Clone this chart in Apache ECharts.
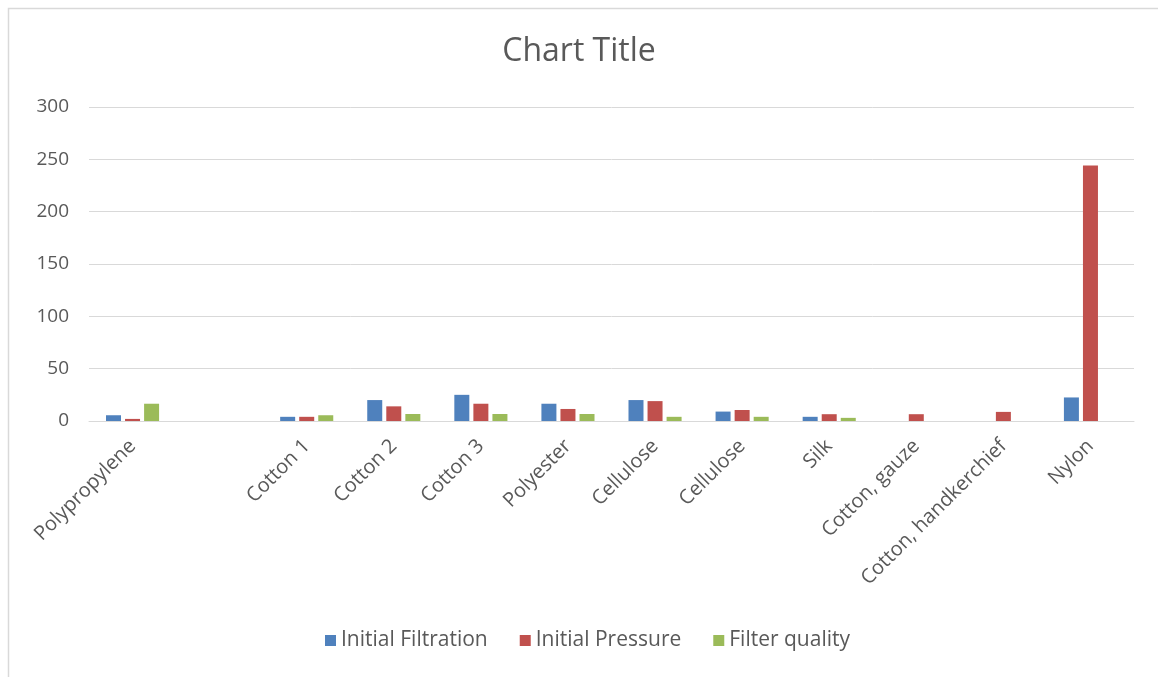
<!DOCTYPE html>
<html>
<head>
<meta charset="utf-8">
<script src="https://cdn.jsdelivr.net/npm/echarts@6/dist/echarts.min.js"></script>
<style>
html, body { margin: 0; padding: 0; background: #fff; }
#chart { width: 1158px; height: 677px; }
</style>
</head>
<body>
<div id="chart"></div>
<script>
/*数据*/
var categories = ['Polypropylene', '', 'Cotton 1', 'Cotton 2', 'Cotton 3', 'Polyester', 'Cellulose', 'Cellulose', 'Silk', 'Cotton, gauze', 'Cotton, handkerchief', 'Nylon'];
var initialFiltration = [5.5, null, 4, 20, 25, 16.5, 20, 9, 4, null, null, 22.5];
var initialPressure = [2, null, 4, 14, 16.5, 11.5, 19, 10.5, 6.5, 6.5, 8.7, 244];
var filterQuality = [16.5, null, 5.5, 6.7, 6.7, 6.7, 4, 4, 3, null, null, null];
var yTicks = [0, 50, 100, 150, 200, 250, 300];

var colors = ['#4f81bd', '#c0504d', '#9bbb59'];
var textColor = '#595959';
var font = 'Open Sans';

function makeSeries(name, data, color) {
	return {
		name: name,
		type: 'bar',
		data: data,
		barWidth: 15,
		barGap: '27%',
		itemStyle: {
			color: color
		},
		emphasis: { disabled: true }
	};
}

var chart = echarts.init(document.getElementById('chart'));
chart.setOption({
	animation: false,
	title: {
		text: 'Chart Title',
		left: 'center',
		top: 31,
		textStyle: {
			fontFamily: font,
			fontSize: 32,
			fontWeight: 'normal',
			color: textColor
		}
	},
	graphic: [{
		type: 'rect',
		shape: { x: 8.5, y: 8.5, width: 1160, height: 700 },
		style: { fill: 'none', stroke: '#d9d9d9', lineWidth: 1.5 },
		silent: true
	}],
	legend: {
		bottom: 21,
		left: 320,
		itemWidth: 11,
		itemHeight: 11,
		itemGap: 32,
		itemTextGap: 8,
		icon: 'rect',
		data: ['Initial Filtration', 'Initial Pressure', 'Filter quality'],
		textStyle: {
			fontFamily: font,
			fontSize: 21,
			color: textColor
		}
	},
	grid: {
		left: 89,
		right: 24,
		top: 107,
		bottom: 256,
		containLabel: false
	},
	xAxis: {
		type: 'category',
		data: categories,
		axisLine: { lineStyle: { color: '#d9d9d9', width: 1 } },
		axisTick: { show: false },
		axisLabel: {
			interval: 0,
			rotate: 45,
			margin: 22,
			fontFamily: font,
			fontSize: 20,
			color: textColor
		}
	},
	yAxis: {
		type: 'value',
		min: yTicks[0],
		max: yTicks[yTicks.length - 1],
		interval: 50,
		axisLine: { show: false },
		axisTick: { show: false },
		splitLine: { lineStyle: { color: '#d9d9d9', width: 1 } },
		axisLabel: {
			margin: 20,
			fontFamily: font,
			fontSize: 19,
			color: textColor
		}
	},
	series: [
		makeSeries('Initial Filtration', initialFiltration, colors[0]),
		makeSeries('Initial Pressure', initialPressure, colors[1]),
		makeSeries('Filter quality', filterQuality, colors[2])
	]
});
</script>
</body>
</html>
